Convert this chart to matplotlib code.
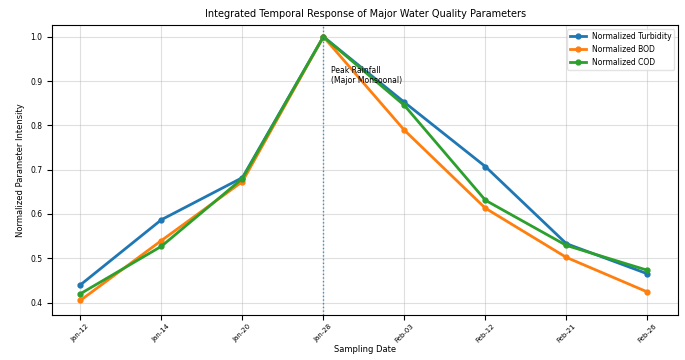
import numpy as np
import matplotlib.pyplot as plt

# sampling dates (plotted as equally spaced categories)
dates = ['Jan-12', 'Jan-14', 'Jan-20', 'Jan-28', 'Feb-03', 'Feb-12', 'Feb-21', 'Feb-26']
turbidity = [0.44, 0.587, 0.682, 1.0, 0.852, 0.707, 0.533, 0.465]
bod = [0.405, 0.54, 0.673, 1.0, 0.789, 0.613, 0.502, 0.424]
cod = [0.42, 0.527, 0.68, 1.0, 0.845, 0.631, 0.529, 0.473]
peak_idx = 3

x = np.arange(len(dates))

fig, ax = plt.subplots(figsize=(6.85, 3.6), dpi=100)
ax.plot(x, turbidity, '-o', color='#1f77b4', lw=2, ms=3.5, label='Normalized Turbidity')
ax.plot(x, bod, '-o', color='#ff7f0e', lw=2, ms=3.5, label='Normalized BOD')
ax.plot(x, cod, '-o', color='#2ca02c', lw=2, ms=3.5, label='Normalized COD')

ax.axvline(peak_idx, color='#1f77b4', ls=':', lw=1, alpha=0.8)
ax.text(peak_idx + 0.1, 0.935, 'Peak Rainfall\n(Major Monsoonal)', fontsize=5.5, va='top')

ax.set_xticks(x)
ax.set_xticklabels(dates, rotation=45, fontsize=5)
ax.tick_params(axis='y', labelsize=5.5)
ax.tick_params(axis='x', pad=2)
ax.set_xlim(-0.35, len(dates) - 0.62)
ax.set_ylim(0.372, 1.026)
ax.set_yticks([0.4, 0.5, 0.6, 0.7, 0.8, 0.9, 1.0])
ax.grid(True, alpha=0.4)
ax.set_xlabel('Sampling Date', fontsize=6, labelpad=1)
ax.set_ylabel('Normalized Parameter Intensity', fontsize=6)
ax.set_title('Integrated Temporal Response of Major Water Quality Parameters', fontsize=7)
ax.legend(loc='upper right', fontsize=5.5, framealpha=0.8, edgecolor='#dddddd')

plt.subplots_adjust(left=0.076, right=0.99, top=0.93, bottom=0.125)
plt.savefig('out.png', dpi=100)
